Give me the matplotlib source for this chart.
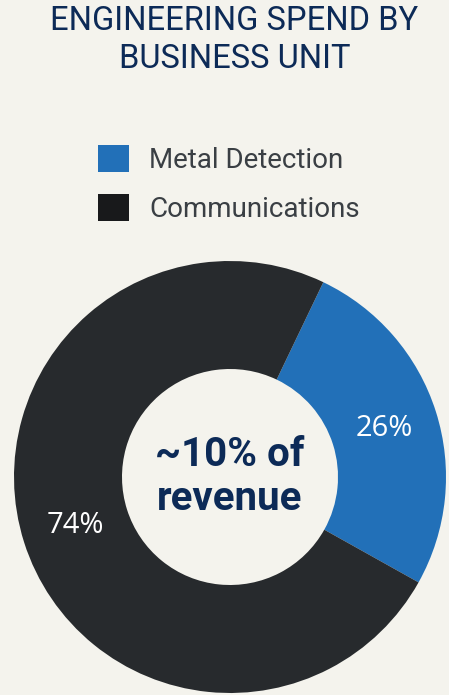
import matplotlib
matplotlib.use("Agg")
import matplotlib.pyplot as plt
from matplotlib.patches import Patch

# data
units = ["Metal Detection", "Communications"]
shares = [26, 74]
colors = ["#2270b8", "#272a2d"]
legend_colors = ["#2270b8", "#18191b"]
title = "ENGINEERING SPEND BY\nBUSINESS UNIT"
center_text = "~10% of\nrevenue"

BG = "#f4f3ed"
NAVY = "#0c2a57"

plt.rcParams["font.family"] = ["Roboto", "DejaVu Sans"]

fig = plt.figure(figsize=(4.49, 6.95), dpi=100, facecolor=BG)

# donut
ax = fig.add_axes([14 / 449, 2 / 695, 432 / 449, 432 / 695])
ax.set_facecolor(BG)
wedges, texts, autotexts = ax.pie(
    shares, colors=colors, startangle=64.4, counterclock=False,
    radius=1, wedgeprops=dict(width=0.5, linewidth=0),
    autopct="%d%%", pctdistance=0.75,
    textprops=dict(color="white", fontsize=21, family=["Open Sans", "DejaVu Sans"]),
)
ax.set_xlim(-1, 1)
ax.set_ylim(-1, 1)
ax.set_aspect("equal")
ax.axis("off")
ax.text(0, 0, center_text, ha="center", va="center", color=NAVY,
        fontsize=29, fontweight="bold", linespacing=1.2)

fig.text(0.522, 1 - 40 / 695, title, ha="center", va="center", color=NAVY,
         fontsize=23.5, linespacing=1.25)

# legend
handles = [Patch(facecolor=c, edgecolor="none") for c in legend_colors]
leg = fig.legend(handles, units, loc="center left",
                 bbox_to_anchor=(73 / 449, 1 - 184 / 695), frameon=False,
                 fontsize=20, handlelength=1.1, handleheight=1.1,
                 handletextpad=0.75, labelspacing=0.72)
for t in leg.get_texts():
    t.set_color("#3a3f44")

fig.savefig("out.png", dpi=100, facecolor=BG)
